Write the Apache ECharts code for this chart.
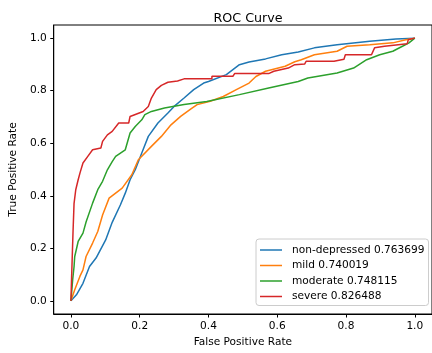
<!DOCTYPE html>
<html>
<head>
<meta charset="utf-8">
<script src="https://cdn.jsdelivr.net/npm/echarts@6/dist/echarts.min.js"></script>
<style>html,body{margin:0;padding:0;background:#fff;}#c{width:432px;height:353px;}</style>
</head>
<body>
<div id="c"></div>
<script>
var seriesNames = ['non-depressed 0.763699', 'mild 0.740019', 'moderate 0.748115', 'severe 0.826488'];
var seriesColors = ['#1f77b4', '#ff7f0e', '#2ca02c', '#d62728'];
var tickValues = [0, 0.2, 0.4, 0.6, 0.8, 1.0];

var fprNonDep = [0, 0.016, 0.035, 0.054, 0.073, 0.101, 0.12, 0.144, 0.158, 0.172, 0.187, 0.206, 0.225, 0.253, 0.282, 0.300, 0.329, 0.357, 0.386, 0.40, 0.452, 0.490, 0.518, 0.566, 0.613, 0.661, 0.708, 0.774, 0.869, 0.945, 1];
var tprNonDep = [0, 0.023, 0.067, 0.131, 0.163, 0.232, 0.299, 0.366, 0.41, 0.461, 0.499, 0.563, 0.626, 0.677, 0.715, 0.74, 0.772, 0.804, 0.829, 0.835, 0.861, 0.899, 0.909, 0.921, 0.937, 0.947, 0.963, 0.975, 0.988, 0.997, 1];

var fprMild = [0, 0.011, 0.026, 0.035, 0.044, 0.063, 0.078, 0.092, 0.111, 0.149, 0.177, 0.196, 0.234, 0.263, 0.291, 0.319, 0.348, 0.367, 0.405, 0.443, 0.481, 0.518, 0.538, 0.566, 0.623, 0.651, 0.670, 0.708, 0.774, 0.803, 0.869, 0.936, 0.974, 1];
var tprMild = [0, 0.042, 0.093, 0.118, 0.169, 0.22, 0.264, 0.327, 0.391, 0.429, 0.48, 0.537, 0.588, 0.626, 0.67, 0.702, 0.73, 0.747, 0.76, 0.778, 0.804, 0.829, 0.854, 0.874, 0.893, 0.91, 0.918, 0.937, 0.95, 0.969, 0.975, 0.982, 0.994, 1];

var fprModerate = [0, 0.005, 0.009, 0.011, 0.021, 0.035, 0.044, 0.063, 0.078, 0.092, 0.106, 0.120, 0.130, 0.158, 0.172, 0.187, 0.206, 0.215, 0.234, 0.272, 0.329, 0.395, 0.490, 0.575, 0.661, 0.689, 0.774, 0.822, 0.860, 0.898, 0.936, 0.964, 0.983, 1];
var tprModerate = [0, 0.08, 0.13, 0.169, 0.226, 0.258, 0.3, 0.372, 0.423, 0.455, 0.499, 0.53, 0.55, 0.575, 0.639, 0.664, 0.689, 0.709, 0.721, 0.734, 0.747, 0.759, 0.785, 0.81, 0.835, 0.848, 0.867, 0.886, 0.918, 0.937, 0.95, 0.969, 0.982, 1];

var fprSevere = [0, 0.002, 0.006, 0.009, 0.014, 0.021, 0.027, 0.035, 0.049, 0.063, 0.087, 0.092, 0.106, 0.12, 0.139, 0.168, 0.172, 0.21, 0.225, 0.234, 0.248, 0.263, 0.282, 0.31, 0.329, 0.41, 0.41, 0.471, 0.476, 0.575, 0.59, 0.632, 0.651, 0.68, 0.684, 0.765, 0.77, 0.794, 0.798, 0.874, 0.883, 0.912, 0.917, 0.978, 0.981, 1];
var tprSevere = [0, 0.093, 0.26, 0.37, 0.423, 0.461, 0.49, 0.525, 0.55, 0.575, 0.582, 0.607, 0.632, 0.645, 0.677, 0.677, 0.702, 0.721, 0.74, 0.772, 0.804, 0.82, 0.832, 0.837, 0.845, 0.845, 0.855, 0.855, 0.865, 0.865, 0.874, 0.886, 0.899, 0.902, 0.912, 0.912, 0.918, 0.92, 0.937, 0.937, 0.963, 0.969, 0.975, 0.979, 0.994, 1];

function pairs(xs, ys) { return xs.map(function (x, i) { return [x, ys[i]]; }); }
var allData = [pairs(fprNonDep, tprNonDep), pairs(fprMild, tprMild), pairs(fprModerate, tprModerate), pairs(fprSevere, tprSevere)];

var FONT = 'DejaVu Sans';
var FS = 10.6;
var chart = echarts.init(document.getElementById('c'), null, {renderer: 'canvas'});
chart.setOption({
  animation: false,
  backgroundColor: '#fff',
  title: {
    text: 'ROC Curve', left: 243, top: 7, textAlign: 'center',
    textStyle: {fontFamily: FONT, fontSize: 12.7, fontWeight: 'normal', color: '#000'}
  },
  grid: {left: 50, right: -5, top: 25, bottom: 39, show: true, borderColor: '#000', borderWidth: 1, backgroundColor: 'transparent'},
  legend: {
    orient: 'vertical', left: 256, top: 239,
    data: seriesNames,
    icon: 'rect', itemWidth: 22, itemHeight: 1.5, itemGap: 3.5,
    padding: [5, 4, 3, 4],
    backgroundColor: 'rgba(255,255,255,0.8)', borderColor: '#cccccc', borderWidth: 1, borderRadius: 3,
    textStyle: {fontFamily: FONT, fontSize: FS, color: '#000', padding: [0, 0, 0, 5], lineHeight: 12}
  },
  xAxis: {
    type: 'value', min: -0.05, max: 1.05,
    name: 'False Positive Rate', nameLocation: 'middle', nameGap: 21,
    nameTextStyle: {fontFamily: FONT, fontSize: FS, color: '#000'},
    axisLine: {show: true, onZero: false, lineStyle: {color: '#000', width: 1}},
    axisTick: {show: true, length: 3.5, inside: false, customValues: tickValues, lineStyle: {color: '#000'}},
    axisLabel: {customValues: tickValues, margin: 6.5, fontFamily: FONT, fontSize: FS, color: '#000', formatter: function (v) { return v.toFixed(1); }},
    splitLine: {show: false}
  },
  yAxis: {
    type: 'value', min: -0.05, max: 1.05,
    name: 'True Positive Rate', nameLocation: 'middle', nameGap: 27, nameRotate: 90,
    nameTextStyle: {fontFamily: FONT, fontSize: FS, color: '#000'},
    axisLine: {show: true, onZero: false, lineStyle: {color: '#000', width: 1}},
    axisTick: {show: true, length: 3.5, inside: false, customValues: tickValues, lineStyle: {color: '#000'}},
    axisLabel: {customValues: tickValues, margin: 7, fontFamily: FONT, fontSize: FS, color: '#000', formatter: function (v) { return v.toFixed(1); }},
    splitLine: {show: false}
  },
  series: allData.map(function (d, i) {
    return {
      name: seriesNames[i], type: 'line', data: d, showSymbol: false, symbol: 'none',
      color: seriesColors[i], lineStyle: {width: 1.5, color: seriesColors[i]}, itemStyle: {color: seriesColors[i]},
      z: 2 + i
    };
  })
});
</script>
</body>
</html>
